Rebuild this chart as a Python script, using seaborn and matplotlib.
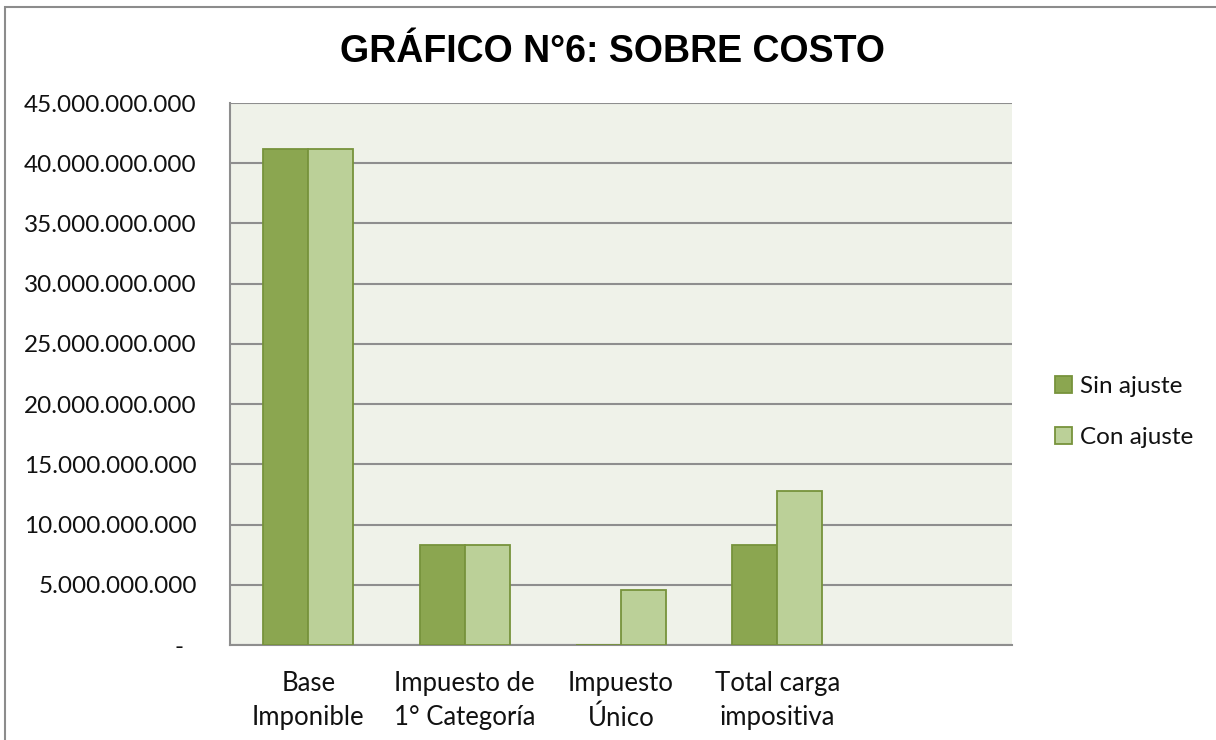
"""
Recreates 'GRÁFICO N°6: SOBRE COSTO' as a grouped bar chart with seaborn.
"""

import matplotlib
matplotlib.use('Agg')
import matplotlib.pyplot as plt
import matplotlib.ticker as mticker
from matplotlib.patches import Rectangle
import pandas as pd
import seaborn as sns

# data
categories = ['Base\nImponible', 'Impuesto de\n1° Categoría',
              'Impuesto\nÚnico', 'Total carga\nimpositiva']
series = ['Sin ajuste', 'Con ajuste']
sin_ajuste = [41.2e9, 8.28e9, 0.04e9, 8.28e9]
con_ajuste = [41.2e9, 8.28e9, 4.54e9, 12.79e9]
y_ticks = [i * 5e9 for i in range(10)]

colors = ['#8BA650', '#BBD098']
edge = '#77933C'
grid_gray = '#8E8E8E'


def fmt_miles(v, pos):
    # Excel style: dots as thousand separator, dash for zero
    if v == 0:
        return '-  '
    return f'{v:,.0f}'.replace(',', '.')


def main():
    df = pd.DataFrame({
        'Categoria': categories * 2,
        'Serie': [series[0]] * 4 + [series[1]] * 4,
        'Valor': sin_ajuste + con_ajuste,
    })

    sns.set_theme(style='white')
    plt.rcParams['font.family'] = ['Lato', 'DejaVu Sans']

    fig = plt.figure(figsize=(12.16, 7.40), dpi=100)
    ax = fig.add_axes([230 / 1216, 95 / 740, 782 / 1216, 542 / 740])
    ax.set_facecolor('#EFF2E9')

    sns.barplot(data=df, x='Categoria', y='Valor', hue='Serie',
                hue_order=series, palette=colors, width=0.575,
                edgecolor=edge, linewidth=1.3, saturation=1, ax=ax,
                zorder=3)

    # room for an empty fifth slot, like the original
    ax.set_xlim(-0.5, 4.5)
    ax.set_ylim(0, 45e9)
    ax.set_yticks(y_ticks)
    ax.yaxis.set_major_formatter(mticker.FuncFormatter(fmt_miles))
    ax.yaxis.grid(True, color=grid_gray, linewidth=1.5, zorder=0)
    ax.set_axisbelow(True)
    ax.tick_params(axis='y', length=0, pad=24, labelsize=17.5,
                   labelcolor='#111111')
    ax.tick_params(axis='x', length=0, pad=19, labelsize=18.5,
                   labelcolor='#111111')
    for lab in ax.get_xticklabels():
        lab.set_linespacing(1.45)
    ax.set_xlabel('')
    ax.set_ylabel('')

    for side in ['top', 'right']:
        ax.spines[side].set_visible(False)
    for side in ['left', 'bottom']:
        ax.spines[side].set_color(grid_gray)
        ax.spines[side].set_linewidth(1.5)

    leg = ax.legend(loc='center left', bbox_to_anchor=(1.027, 0.43),
                    frameon=False, fontsize=17.5, handlelength=0.72,
                    handleheight=0.72, handletextpad=0.3,
                    labelspacing=1.25)
    for h in leg.legend_handles:
        h.set_edgecolor(edge)
    for t in leg.get_texts():
        t.set_color('#111111')

    fig.text(0.504, 1 - 52 / 740, 'GRÁFICO N°6: SOBRE COSTO',
             ha='center', va='center', fontsize=27, fontweight='bold',
             color='black', family=['Liberation Sans', 'DejaVu Sans'])

    # outer chart border (only top and left edges fall inside the crop)
    fig.patches.append(Rectangle((5 / 1216, -0.1), 1.2, 1.1 - 6.5 / 740,
                                 transform=fig.transFigure, fill=False,
                                 edgecolor='#8C8C8C', linewidth=1.5))

    fig.savefig('out.png', dpi=100)


if __name__ == '__main__':
    main()
